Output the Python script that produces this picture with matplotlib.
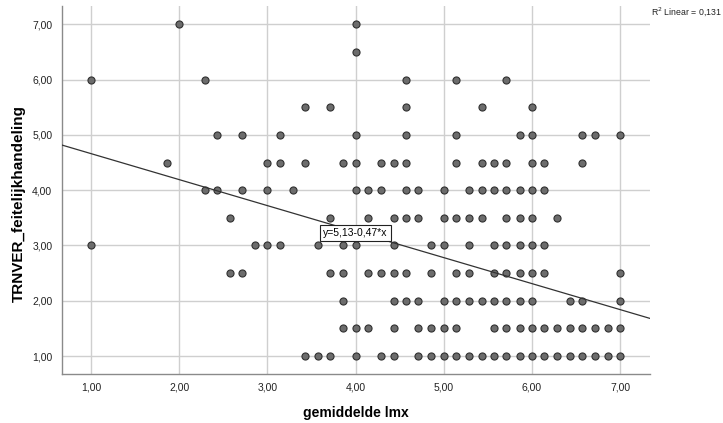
import matplotlib
matplotlib.use("Agg")
import matplotlib.pyplot as plt
import numpy as np

plt.rcParams['font.family'] = ['Liberation Sans', 'DejaVu Sans']

# observed (lmx, TRNVER) pairs, grouped per y level
y_levels = [7.0, 6.5, 6.0, 5.5, 5.0, 4.5, 4.0, 3.5, 3.0, 2.5, 2.0, 1.5, 1.0]
x_per_level = [
    [2.00, 4.00],
    [4.00],
    [1.00, 2.29, 4.57, 5.14, 5.71],
    [3.43, 3.71, 4.57, 5.43, 6.00],
    [2.43, 2.71, 3.14, 4.00, 4.57, 5.14, 5.86, 6.00, 6.57, 6.71, 7.00],
    [1.86, 3.00, 3.14, 3.43, 3.86, 4.00, 4.29, 4.43, 4.57, 5.14, 5.43, 5.57,
     5.71, 6.00, 6.14, 6.57],
    [2.29, 2.43, 2.71, 3.00, 3.29, 4.00, 4.14, 4.29, 4.57, 4.71, 5.00, 5.29,
     5.43, 5.57, 5.71, 5.86, 6.00, 6.14],
    [2.57, 3.71, 4.14, 4.43, 4.57, 4.71, 5.00, 5.14, 5.29, 5.43, 5.71, 5.86,
     6.00, 6.29],
    [1.00, 2.86, 3.00, 3.14, 3.57, 3.86, 4.00, 4.43, 4.86, 5.00, 5.29, 5.57,
     5.71, 5.86, 6.00, 6.14],
    [2.57, 2.71, 3.71, 3.86, 4.14, 4.29, 4.43, 4.57, 4.86, 5.14, 5.29, 5.57,
     5.71, 5.86, 6.00, 6.14, 7.00],
    [3.86, 4.43, 4.57, 4.71, 5.00, 5.14, 5.29, 5.43, 5.57, 5.71, 5.86, 6.00,
     6.43, 6.57, 7.00],
    [3.86, 4.00, 4.14, 4.43, 4.71, 4.86, 5.00, 5.14, 5.57, 5.71, 5.86, 6.00,
     6.14, 6.29, 6.43, 6.57, 6.71, 6.86, 7.00],
    [3.43, 3.57, 3.71, 4.00, 4.29, 4.43, 4.71, 4.86, 5.00, 5.14, 5.29, 5.43,
     5.57, 5.71, 5.86, 6.00, 6.14, 6.29, 6.43, 6.57, 6.71, 6.86, 7.00],
]

# fit line as reported by SPSS
intercept = 5.13
slope = -0.47
r2 = 0.131

ticks = [1, 2, 3, 4, 5, 6, 7]


def comma(v):
    return f"{v:.2f}".replace('.', ',')


xs = np.concatenate([np.array(row) for row in x_per_level])
ys = np.concatenate([np.full(len(row), yv) for row, yv in zip(x_per_level, y_levels)])

fig = plt.figure(figsize=(7.23, 4.23), dpi=100)
ax = fig.add_axes([0.0858, 0.1158, 0.8133, 0.8700])

xlim = (0.67, 7.34)
ax.set_xlim(*xlim)
ax.set_ylim(0.675, 7.33)

ax.set_xticks(ticks)
ax.set_yticks(ticks)
ax.set_xticklabels([comma(t) for t in ticks])
ax.set_yticklabels([comma(t) for t in ticks])
ax.tick_params(length=0, labelsize=7.5, colors='#222222')
ax.tick_params(axis='x', pad=6)
ax.tick_params(axis='y', pad=7)
ax.grid(True, color='#cfcfcf', linewidth=1.0)
ax.set_axisbelow(True)

for s in ['top', 'right']:
    ax.spines[s].set_visible(False)
for s in ['left', 'bottom']:
    ax.spines[s].set_color('#8a8a8a')
    ax.spines[s].set_linewidth(1.0)

ax.scatter(xs, ys, s=26, facecolor='#6c6c6c', edgecolor='#303030',
           linewidth=0.8, zorder=3)

lx = np.array(xlim)
ax.plot(lx, intercept + slope * lx, color='#333333', linewidth=0.9, zorder=4)

ax.text(4.0, intercept + slope * 4.0 - 0.03, f"y={comma(intercept)}-{comma(-slope)}*x",
        fontsize=7.5, ha='center', va='center', zorder=5,
        bbox=dict(boxstyle='square,pad=0.28', facecolor='white',
                  edgecolor='#222222', linewidth=0.8))

ax.set_xlabel('gemiddelde lmx', fontsize=10, fontweight='bold', labelpad=10)
ax.set_ylabel('TRNVER_feitelijkhandeling', fontsize=11, fontweight='bold')
ax.yaxis.set_label_coords(-0.062, 0.462)

fig.text(0.901, 0.972, f"R$^2$ Linear = {r2:.3f}".replace('.', ','),
         fontsize=6.3, ha='left', va='center', color='#222222')

fig.savefig('out.png', dpi=100)
